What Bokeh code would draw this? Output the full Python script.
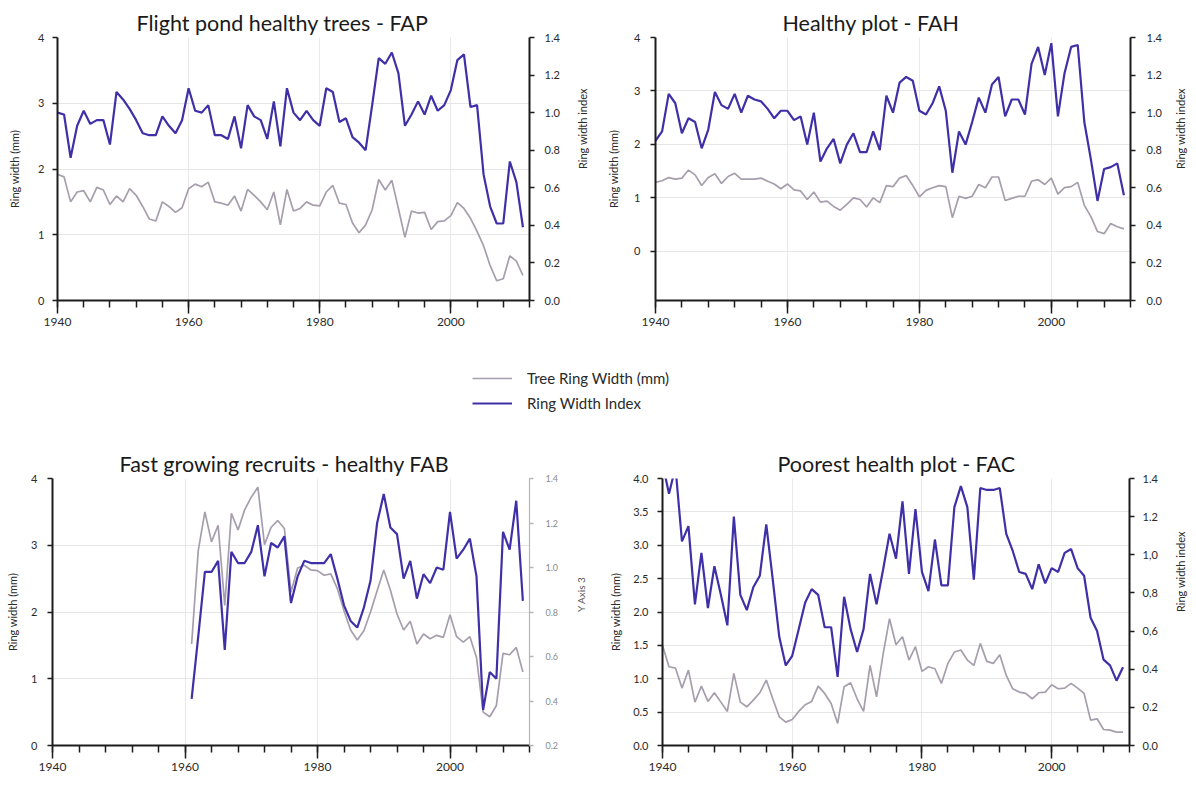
import math
from bokeh.plotting import figure
from bokeh.models import (Range1d, LinearAxis, SingleIntervalTicker, FixedTicker,
                          Legend, LegendItem, NumeralTickFormatter)
from bokeh.layouts import column, row
from bokeh.embed import file_html
from bokeh.resources import INLINE

# ---------------- data ----------------
years = list(range(1940, 2012))
years_fab = list(range(1961, 2012))

fap_width = [1.92, 1.88, 1.50, 1.65, 1.67, 1.50, 1.72, 1.68, 1.46, 1.59,
             1.50, 1.70, 1.60, 1.43, 1.24, 1.21, 1.50, 1.43, 1.34, 1.41,
             1.70, 1.77, 1.73, 1.80, 1.50, 1.48, 1.45, 1.59, 1.36, 1.69,
             1.60, 1.50, 1.38, 1.65, 1.15, 1.69, 1.36, 1.40, 1.50, 1.45,
             1.44, 1.65, 1.75, 1.48, 1.46, 1.18, 1.03, 1.15, 1.38, 1.84,
             1.68, 1.83, 1.40, 0.96, 1.36, 1.33, 1.34, 1.08, 1.20, 1.21,
             1.29, 1.49, 1.40, 1.25, 1.05, 0.83, 0.53, 0.30, 0.33, 0.68,
             0.60, 0.38]
fap_index = [1.00, 0.99, 0.76, 0.93, 1.01, 0.94, 0.96, 0.96, 0.83, 1.11,
             1.07, 1.02, 0.96, 0.89, 0.88, 0.88, 0.98, 0.93, 0.89, 0.96,
             1.13, 1.01, 1.00, 1.04, 0.88, 0.88, 0.86, 0.98, 0.81, 1.04,
             0.98, 0.96, 0.86, 1.06, 0.82, 1.13, 1.00, 0.96, 1.01, 0.96,
             0.93, 1.13, 1.11, 0.95, 0.97, 0.87, 0.84, 0.80, 1.04, 1.29,
             1.26, 1.32, 1.21, 0.93, 0.99, 1.06, 0.99, 1.09, 1.01, 1.04,
             1.12, 1.28, 1.31, 1.03, 1.04, 0.67, 0.50, 0.41, 0.41, 0.74,
             0.63, 0.39]

fah_width = [1.29, 1.32, 1.38, 1.35, 1.37, 1.52, 1.43, 1.23, 1.38, 1.45,
             1.27, 1.40, 1.46, 1.35, 1.35, 1.35, 1.37, 1.31, 1.26, 1.17,
             1.26, 1.15, 1.13, 0.97, 1.11, 0.92, 0.94, 0.84, 0.77, 0.88,
             1.00, 0.97, 0.83, 1.00, 0.91, 1.23, 1.21, 1.37, 1.42, 1.23,
             1.02, 1.14, 1.19, 1.23, 1.21, 0.63, 1.03, 0.99, 1.03, 1.25,
             1.19, 1.39, 1.39, 0.95, 0.99, 1.03, 1.03, 1.31, 1.34, 1.25,
             1.37, 1.07, 1.19, 1.21, 1.29, 0.86, 0.65, 0.37, 0.33, 0.52,
             0.46, 0.42]
fah_index = [0.85, 0.90, 1.10, 1.05, 0.89, 0.97, 0.95, 0.81, 0.91, 1.11,
             1.04, 1.02, 1.10, 1.00, 1.09, 1.07, 1.06, 1.02, 0.97, 1.01,
             1.01, 0.96, 0.98, 0.83, 1.00, 0.74, 0.81, 0.86, 0.73, 0.83,
             0.89, 0.79, 0.79, 0.90, 0.80, 1.09, 1.00, 1.16, 1.19, 1.17,
             1.01, 0.99, 1.05, 1.14, 1.01, 0.68, 0.90, 0.83, 0.95, 1.08,
             1.00, 1.15, 1.19, 0.98, 1.07, 1.07, 0.99, 1.26, 1.35, 1.20,
             1.37, 0.98, 1.21, 1.35, 1.36, 0.95, 0.75, 0.53, 0.70, 0.71,
             0.73, 0.56]

fab_width = [1.52, 2.92, 3.50, 3.05, 3.30, 2.10, 3.48, 3.23, 3.53, 3.72,
             3.87, 3.01, 3.27, 3.37, 3.25, 2.30, 2.66, 2.70, 2.63, 2.62,
             2.55, 2.57, 2.35, 2.02, 1.73, 1.58, 1.72, 2.00, 2.32, 2.63,
             2.33, 1.97, 1.73, 1.86, 1.52, 1.67, 1.60, 1.65, 1.62, 1.96,
             1.63, 1.55, 1.63, 1.32, 0.50, 0.43, 0.60, 1.38, 1.36, 1.47,
             1.10]
fab_index = [0.41, 0.69, 0.98, 0.98, 1.03, 0.63, 1.07, 1.02, 1.02, 1.07,
             1.19, 0.96, 1.11, 1.09, 1.14, 0.84, 0.96, 1.03, 1.02, 1.02,
             1.02, 1.06, 0.95, 0.83, 0.76, 0.73, 0.82, 0.94, 1.20, 1.33,
             1.18, 1.15, 0.95, 1.03, 0.86, 0.97, 0.93, 1.00, 0.99, 1.25,
             1.04, 1.08, 1.13, 0.96, 0.36, 0.53, 0.50, 1.16, 1.08, 1.30,
             0.85]

fac_width = [1.50, 1.18, 1.16, 0.86, 1.13, 0.65, 0.89, 0.66, 0.79, 0.65,
             0.51, 1.08, 0.65, 0.58, 0.68, 0.79, 0.98, 0.70, 0.43, 0.35,
             0.39, 0.51, 0.61, 0.66, 0.89, 0.78, 0.63, 0.33, 0.88, 0.94,
             0.70, 0.51, 1.20, 0.73, 1.36, 1.90, 1.51, 1.63, 1.28, 1.48,
             1.11, 1.18, 1.15, 0.93, 1.23, 1.40, 1.43, 1.28, 1.20, 1.53,
             1.26, 1.23, 1.36, 1.05, 0.85, 0.80, 0.78, 0.70, 0.79, 0.80,
             0.91, 0.85, 0.86, 0.93, 0.86, 0.78, 0.38, 0.40, 0.24, 0.23,
             0.20, 0.20]
fac_index = [1.48, 1.32, 1.46, 1.07, 1.15, 0.74, 1.01, 0.72, 0.94, 0.79,
             0.63, 1.20, 0.79, 0.71, 0.83, 0.89, 1.16, 0.87, 0.57, 0.42,
             0.47, 0.61, 0.75, 0.82, 0.79, 0.62, 0.62, 0.36, 0.78, 0.61,
             0.49, 0.61, 0.90, 0.74, 0.92, 1.11, 0.98, 1.28, 0.90, 1.24,
             0.91, 0.81, 1.08, 0.84, 0.84, 1.25, 1.36, 1.25, 0.87, 1.35,
             1.34, 1.34, 1.35, 1.11, 1.02, 0.91, 0.90, 0.82, 0.95, 0.85,
             0.93, 0.91, 1.01, 1.03, 0.93, 0.89, 0.67, 0.60, 0.45, 0.42,
             0.34, 0.41]

titles = ["Flight pond healthy trees - FAP", "Healthy plot - FAH",
          "Fast growing recruits - healthy FAB", "Poorest health plot - FAC"]
legend_labels = ["Tree Ring Width (mm)", "Ring Width Index"]

# ---------------- style ----------------
BLUE = "#3f30a8"
GREY = "#a69eac"
AXC = "#1c1c1c"
TXT = "#2a2a2a"
FONT = "Lato"


def style_axis(ax, tick_out, lab_standoff, axl_standoff, label=None,
               color=AXC, lab_color=TXT, lab_size="11px", axl_size="11px",
               axl_color=TXT, line_width=2):
    ax.axis_line_color = color
    ax.axis_line_width = line_width
    ax.major_tick_line_color = color
    ax.major_tick_line_width = 1.5
    ax.major_tick_in = 0
    ax.major_tick_out = tick_out
    ax.minor_tick_line_color = None
    ax.major_label_text_font = FONT
    ax.major_label_text_font_size = lab_size
    ax.major_label_text_color = lab_color
    ax.major_label_standoff = lab_standoff
    ax.axis_label_text_font = FONT
    ax.axis_label_text_font_size = axl_size
    ax.axis_label_text_font_style = "normal"
    ax.axis_label_text_color = axl_color
    ax.axis_label_standoff = axl_standoff
    if label is not None:
        ax.axis_label = label


def make_panel(title, title_offset, xs, width_vals, index_vals, borders,
               left_range, left_ticks, left_fmt, right_range, right_ticks,
               right_overrides, left_label, right_label, left_std, right_std,
               right_muted=False):
    bl, br, bt, bb = borders
    p = figure(width=598, height=345, x_range=Range1d(1940, 2012),
               y_range=Range1d(*left_range), output_backend="svg",
               toolbar_location=None, min_border_left=bl, min_border_right=br,
               min_border_top=bt, min_border_bottom=bb,
               outline_line_color=None, background_fill_color="white",
               border_fill_color="white")
    p.extra_y_ranges = {"idx": Range1d(*right_range)}

    p.title.text = title
    p.title.align = "left"
    p.title.offset = title_offset
    p.title.text_font = FONT
    p.title.text_font_size = "21.5px"
    p.title.text_font_style = "normal"
    p.title.text_color = "#1a1a1a"
    p.title.standoff = 4

    # grids
    p.xgrid.ticker = SingleIntervalTicker(interval=20)
    p.xgrid.grid_line_color = "#e9e9e9"
    p.ygrid.ticker = FixedTicker(ticks=left_ticks)
    p.ygrid.grid_line_color = "#e6e6e6"

    # x axis
    xa = p.xaxis[0]
    xa.ticker = SingleIntervalTicker(interval=20, num_minor_ticks=5)
    style_axis(xa, 13, 4, 0)
    xa.minor_tick_line_color = AXC
    xa.minor_tick_line_width = 1.5
    xa.minor_tick_in = 0
    xa.minor_tick_out = 7
    xa.major_label_text_font_size = "12px"

    # left axis
    ya = p.yaxis[0]
    ya.ticker = FixedTicker(ticks=left_ticks)
    ya.formatter = NumeralTickFormatter(format=left_fmt)
    style_axis(ya, 5, left_std[0], left_std[1], label=left_label)

    # right axis
    ra = LinearAxis(y_range_name="idx", ticker=FixedTicker(ticks=right_ticks),
                    major_label_overrides=right_overrides)
    if right_muted:
        style_axis(ra, 4, right_std[0], right_std[1], label=right_label,
                   color="#b5b5b5", lab_color="#8a8a8a", lab_size="9px",
                   axl_size="10px", axl_color="#555555", line_width=1.2)
    else:
        style_axis(ra, 5, right_std[0], right_std[1], label=right_label)
    ra.axis_label_orientation = math.pi / 2
    p.add_layout(ra, "right")

    p.line(xs, width_vals, color=GREY, line_width=1.7)
    p.line(xs, index_vals, color=BLUE, line_width=2.2, y_range_name="idx")
    return p


rt = [0.0, 0.2, 0.4, 0.6, 0.8, 1.0, 1.2, 1.4]
rt_lab = {t: "%.1f" % t for t in rt}
rt_fac = dict(rt_lab)
rt_fac.update({1.0: "1,0", 0.8: "0,8", 0.6: "0,6"})
rt3 = [0.2, 0.4, 0.6, 0.8, 1.0, 1.2, 1.4]
rt3_lab = {t: "%.1f" % t for t in rt3}

p1 = make_panel(titles[0], 79, years, fap_width, fap_index, (57, 66, 37, 42),
                (0, 4), [0, 1, 2, 3, 4], "0", (0, 1.4), rt, rt_lab,
                "Ring width (mm)", "Ring width index", (8, 14), (10, 20))
p2 = make_panel(titles[1], 127, years, fah_width, fah_index, (57, 65, 35, 45),
                (-0.92, 4), [0, 1, 2, 3, 4], "0", (0, 1.4), rt, rt_lab,
                "Ring width (mm)", "Ring width index", (10, 11), (11, 16))
p3 = make_panel(titles[2], 67, years_fab, fab_width, fab_index, (52, 69, 36, 42),
                (0, 4), [0, 1, 2, 3, 4], "0", (0.2, 1.4), rt3, rt3_lab,
                "Ring width (mm)", "Y Axis 3", (10, 9), (12, 20), right_muted=True)
p4 = make_panel(titles[3], 115, years, fac_width, fac_index, (64, 58, 36, 42),
                (0, 4), [0, 0.5, 1, 1.5, 2, 2.5, 3, 3.5, 4], "0.0", (0, 1.4), rt, rt_fac,
                "Ring width (mm)", "Ring width index", (9, 8), (8, 20))

# ---------------- legend strip ----------------
lg = figure(width=1196, height=97, output_backend="svg", toolbar_location=None,
            min_border=0, outline_line_color=None, x_range=Range1d(0, 1),
            y_range=Range1d(0, 1), x_axis_location=None, y_axis_location=None,
            background_fill_color="white", border_fill_color="white")
lg.grid.visible = False
nan = float("nan")
r1 = lg.line(x=[0, 1], y=[nan, nan], color=GREY, line_width=1.7)
r2 = lg.line(x=[0, 1], y=[nan, nan], color=BLUE, line_width=2.2)
legend = Legend(items=[LegendItem(label=legend_labels[0], renderers=[r1]),
                       LegendItem(label=legend_labels[1], renderers=[r2])],
                location=(472, 29), orientation="vertical", glyph_width=40,
                glyph_height=20, label_standoff=15, padding=0, margin=0,
                spacing=5, border_line_color=None, background_fill_alpha=0,
                label_text_font=FONT, label_text_font_size="15px",
                label_text_color=TXT)
lg.add_layout(legend, "center")

layout = column(row(p1, p2), lg, row(p3, p4))

with open("out.html", "w") as f:
    f.write(file_html(layout, INLINE))
